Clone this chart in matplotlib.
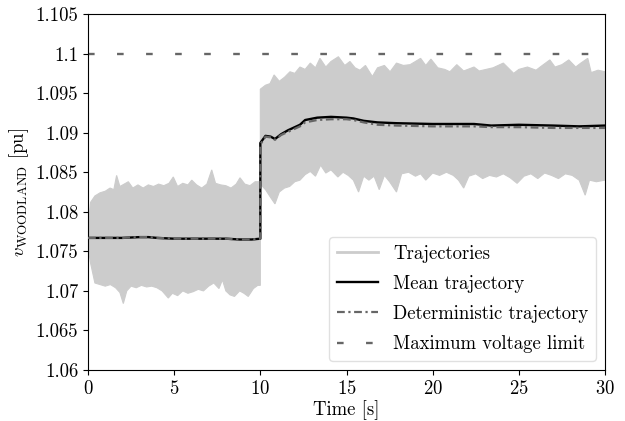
import matplotlib
matplotlib.use("Agg")
import numpy as np
import matplotlib.pyplot as plt

# ---------------------------------------------------------
# Data
# ---------------------------------------------------------
# envelope of the stochastic trajectories before the step (t < 10 s)
pre_upper_t = [0.0, 0.15, 0.4, 0.7, 1.0, 1.28, 1.5, 1.66, 1.85, 2.1, 2.34, 2.6, 2.9, 3.2, 3.5,
               3.8, 4.1, 4.4, 4.7, 4.95, 5.2, 5.5, 5.8, 6.02, 6.3, 6.6, 6.9, 7.18, 7.4, 7.7,
               8.0, 8.3, 8.6, 8.82, 9.1, 9.4, 9.7, 10.0]
pre_upper_v = [1.0780, 1.0812, 1.0820, 1.0824, 1.0826, 1.0830, 1.0828, 1.0846, 1.0832, 1.0835,
               1.0838, 1.0830, 1.0834, 1.0830, 1.0834, 1.0832, 1.0835, 1.0833, 1.0836, 1.0844,
               1.0832, 1.0836, 1.0834, 1.0840, 1.0834, 1.0830, 1.0835, 1.0853, 1.0836, 1.0834,
               1.0833, 1.0830, 1.0835, 1.0843, 1.0835, 1.0833, 1.0838, 1.0838]
pre_lower_t = [0.0, 0.15, 0.4, 0.7, 1.0, 1.3, 1.6, 1.85, 2.05, 2.25, 2.5, 2.8, 3.1, 3.4, 3.7,
               4.0, 4.3, 4.66, 4.9, 5.2, 5.5, 5.8, 6.1, 6.4, 6.7, 7.0, 7.3, 7.6, 7.8, 8.0,
               8.24, 8.5, 8.8, 9.05, 9.3, 9.6, 9.85, 10.0]
pre_lower_v = [1.0755, 1.0735, 1.0710, 1.0708, 1.0706, 1.0708, 1.0704, 1.0698, 1.0684, 1.0700,
               1.0706, 1.0704, 1.0707, 1.0705, 1.0706, 1.0704, 1.0700, 1.0691, 1.0697, 1.0694,
               1.0700, 1.0697, 1.0699, 1.0702, 1.0700, 1.0706, 1.0710, 1.0703, 1.0714, 1.0700,
               1.0695, 1.0693, 1.0700, 1.0697, 1.0693, 1.0703, 1.0707, 1.0707]

# envelope after the step (t >= 10 s)
post_upper_t = [10.0, 10.3, 10.56, 10.8, 11.1, 11.4, 11.72, 12.0, 12.3, 12.6, 12.9, 13.2, 13.46,
                13.8, 14.1, 14.53, 14.9, 15.2, 15.5, 15.78, 16.1, 16.5, 16.8, 17.2, 17.53, 17.9,
                18.3, 18.69, 19.0, 19.3, 19.6, 19.9, 20.3, 20.7, 21.0, 21.4, 21.8, 22.4, 22.7,
                23.1, 23.5, 24.1, 24.7, 25.0, 25.5, 26.0, 26.3, 26.8, 27.1, 27.5, 27.9, 28.3,
                28.6, 29.0, 29.2, 29.6, 30.0]
post_upper_v = [1.0955, 1.0960, 1.0962, 1.0973, 1.0965, 1.0970, 1.0977, 1.0975, 1.0983, 1.0980,
                1.0988, 1.0982, 1.0994, 1.0983, 1.0990, 1.0996, 1.0985, 1.0990, 1.0982, 1.0979,
                1.0985, 1.0971, 1.0982, 1.0985, 1.0977, 1.0988, 1.0985, 1.0986, 1.0990, 1.0994,
                1.0985, 1.0993, 1.0982, 1.0980, 1.0977, 1.0986, 1.0978, 1.0983, 1.0978, 1.0980,
                1.0982, 1.0988, 1.0975, 1.0980, 1.0983, 1.0979, 1.0984, 1.0992, 1.0983, 1.0986,
                1.0992, 1.0983, 1.0988, 1.0994, 1.0976, 1.0979, 1.0977]
post_lower_t = [10.0, 10.3, 10.6, 10.85, 11.1, 11.4, 11.7, 12.0, 12.3, 12.6, 12.9, 13.2, 13.5,
                13.8, 14.1, 14.5, 14.8, 15.1, 15.4, 15.7, 16.0, 16.3, 16.6, 16.9, 17.2, 17.5,
                17.9, 18.2, 18.6, 19.0, 19.3, 19.6, 20.0, 20.4, 20.8, 21.2, 21.5, 21.8, 22.1,
                22.5, 22.9, 23.3, 23.7, 24.1, 24.5, 24.9, 25.3, 25.7, 26.1, 26.5, 26.9, 27.3,
                27.7, 28.1, 28.5, 28.85, 29.1, 29.5, 30.0]
post_lower_v = [1.0835, 1.0828, 1.0818, 1.0810, 1.0825, 1.0830, 1.0832, 1.0838, 1.0840, 1.0847,
                1.0851, 1.0845, 1.0859, 1.0849, 1.0853, 1.0844, 1.0850, 1.0846, 1.0840, 1.0825,
                1.0845, 1.0840, 1.0845, 1.0828, 1.0846, 1.0838, 1.0825, 1.0848, 1.0850, 1.0845,
                1.0848, 1.0840, 1.0849, 1.0846, 1.0850, 1.0846, 1.0840, 1.0830, 1.0845, 1.0848,
                1.0842, 1.0846, 1.0844, 1.0848, 1.0843, 1.0836, 1.0845, 1.0848, 1.0842, 1.0849,
                1.0846, 1.0842, 1.0848, 1.0846, 1.0840, 1.0821, 1.0840, 1.0838, 1.0840]

# mean trajectory
mean_t = [0.0, 1.0, 2.0, 3.0, 3.5, 4.0, 5.0, 6.0, 7.0, 8.0, 8.8, 9.5, 10.0,
          10.0, 10.3, 10.6, 10.85, 11.2, 11.6, 12.0, 12.3, 12.6, 13.3, 14.1, 15.0, 15.4,
          16.0, 16.8, 17.9, 20.0, 22.4, 23.4, 25.0, 27.0, 28.5, 30.0]
mean_v = [1.0767, 1.0767, 1.0767, 1.0768, 1.0768, 1.0767, 1.0766, 1.0766, 1.0766, 1.0766,
          1.0765, 1.0765, 1.0766,
          1.0887, 1.0896, 1.0895, 1.0892, 1.0898, 1.0903, 1.0907, 1.0910, 1.0916, 1.0919,
          1.0920, 1.0919, 1.0918, 1.0915, 1.0913, 1.0912, 1.0911, 1.0911, 1.0909, 1.0910,
          1.0909, 1.0908, 1.0909]

# deterministic trajectory
det_t = mean_t
det_v = [1.0767, 1.0767, 1.0767, 1.0768, 1.0768, 1.0767, 1.0766, 1.0766, 1.0766, 1.0766,
         1.0765, 1.0765, 1.0766,
         1.0885, 1.0895, 1.0894, 1.0891, 1.0897, 1.0901, 1.0905, 1.0908, 1.0913, 1.0916,
         1.0917, 1.0917, 1.0916, 1.0913, 1.0910, 1.0909, 1.0908, 1.0908, 1.0907, 1.0907,
         1.0906, 1.0906, 1.0906]

v_max = 1.1
t_range = [0, 30]

y_ticks = [1.06, 1.065, 1.07, 1.075, 1.08, 1.085, 1.09, 1.095, 1.1, 1.105]
y_tick_labels = ["1.06", "1.065", "1.07", "1.075", "1.08", "1.085", "1.09", "1.095", "1.1", "1.105"]
x_ticks = [0, 5, 10, 15, 20, 25, 30]

# ---------------------------------------------------------
# Style (LaTeX-like Computer Modern)
# ---------------------------------------------------------
plt.rcParams["font.family"] = "serif"
plt.rcParams["font.serif"] = ["cmr10"]
plt.rcParams["mathtext.fontset"] = "cm"
plt.rcParams["axes.formatter.use_mathtext"] = True
plt.rcParams["font.size"] = 13.5

traj_color = "#cccccc"

fig = plt.figure(figsize=(6.25, 4.21), dpi=100)
ax = fig.add_axes([0.1408, 0.1211, 0.8272, 0.8456])

# band of trajectories: upper envelope forward, lower envelope backward
band_t = pre_upper_t + post_upper_t + post_lower_t[::-1] + pre_lower_t[::-1]
band_v = pre_upper_v + post_upper_v + post_lower_v[::-1] + pre_lower_v[::-1]
ax.fill(band_t, band_v, color=traj_color, lw=0.8, ec=traj_color, zorder=1)
ax.plot([], [], color=traj_color, lw=2, label="Trajectories")

ax.plot(mean_t, mean_v, color="black", lw=1.7, label="Mean trajectory", zorder=3)
ax.plot(det_t, det_v, color="#666666", lw=1.6, ls=(0, (3.5, 1.6, 1.0, 1.6)),
        label="Deterministic trajectory", zorder=4)
ax.plot(t_range, [v_max, v_max], color="#666666", lw=1.7, ls=(0, (2.8, 9.5)),
        label="Maximum voltage limit", zorder=2)

ax.set_xlim(0, 30)
ax.set_ylim(1.06, 1.105)
ax.set_xticks(x_ticks)
ax.set_yticks(y_ticks)
ax.set_yticklabels(y_tick_labels)
ax.set_xlabel("Time [s]", labelpad=2)
ax.set_ylabel(r"$v_{\mathrm{WOODLAND}}$ [pu]", labelpad=3)

ax.legend(loc="lower right", fontsize=13.5, framealpha=0.8, edgecolor="0.85",
          handlelength=2.2, labelspacing=0.65, borderaxespad=0.5)

fig.savefig("out.png", dpi=100)
